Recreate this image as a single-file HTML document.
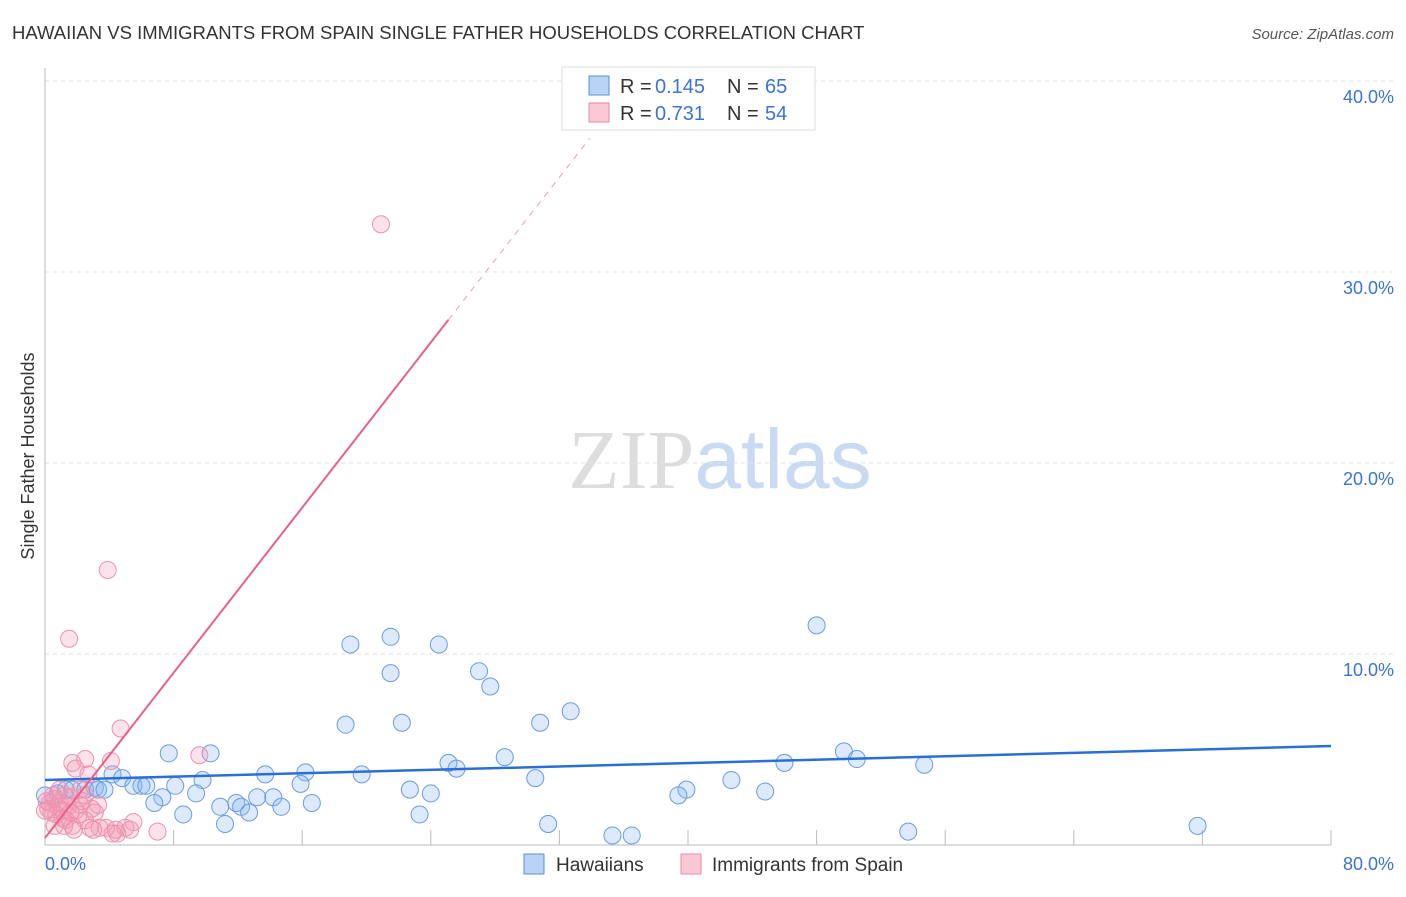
<!DOCTYPE html>
<html><head><meta charset="utf-8"><style>
body{margin:0;background:#fff;font-family:"Liberation Sans",sans-serif;}
svg text{font-family:"Liberation Sans",sans-serif;}
</style></head><body>
<svg id="chart" width="1406" height="892" xmlns="http://www.w3.org/2000/svg">
<text x="12" y="39" font-size="18.5" fill="#333">HAWAIIAN VS IMMIGRANTS FROM SPAIN SINGLE FATHER HOUSEHOLDS CORRELATION CHART</text>
<text x="1394" y="39" font-size="15" fill="#555" text-anchor="end" font-style="italic">Source: ZipAtlas.com</text>
<text x="720" y="488" font-size="84" text-anchor="middle"><tspan fill="#ddd" font-family="Liberation Serif">ZIP</tspan><tspan fill="#c9dbf2">atlas</tspan></text>
<g id="grid"></g>
<line x1="45" y1="68" x2="45" y2="845" stroke="#bbb"/>
<line x1="45" y1="845" x2="1331" y2="845" stroke="#bbb"/>
<g id="ticks"></g>
<text transform="translate(34,456) rotate(-90)" font-size="18" fill="#333" text-anchor="middle">Single Father Households</text>
<text x="45" y="870" font-size="18" fill="#3b73d6">0.0%</text>
<text x="1394" y="870" font-size="18" fill="#3b73d6" text-anchor="end">80.0%</text>
<g id="points"></g>
<g id="lines"></g>
<g>
<rect x="562" y="67" width="253" height="63" fill="#fff" stroke="#ddd"/>
<rect x="589" y="76" width="20" height="19" fill="#b9d3f5" stroke="#5b8fd9"/>
<rect x="589" y="103" width="20" height="19" fill="#fbc8d6" stroke="#e88aa6"/>
<text x="620" y="93" font-size="20" fill="#333">R =</text><text x="655" y="93" font-size="20" fill="#3b73d6">0.145</text>
<text x="727" y="93" font-size="20" fill="#333">N =</text><text x="765" y="93" font-size="20" fill="#3b73d6">65</text>
<text x="620" y="120" font-size="20" fill="#333">R =</text><text x="655" y="120" font-size="20" fill="#3b73d6">0.731</text>
<text x="727" y="120" font-size="20" fill="#333">N =</text><text x="765" y="120" font-size="20" fill="#3b73d6">54</text>
</g>
<g><rect x="524" y="854" width="20" height="20" fill="#b9d3f5" stroke="#5b8fd9"/><text x="556" y="871" font-size="19" fill="#333">Hawaiians</text></g>
<g><rect x="681" y="854" width="20" height="20" fill="#fbc8d6" stroke="#e88aa6"/><text x="712" y="871" font-size="19" fill="#333">Immigrants from Spain</text></g>
</svg>
<script>
const yTicks=[10,20,30,40];
const yTickLabels=["10.0%","20.0%","30.0%","40.0%"];
const xTicks=[0,8,16,24,32,40,48,56,64,72,80];
const blueX=[19.0,21.5,24.5,48.0,21.5,27.0,27.7,18.7,22.2,30.8,32.7,7.7,10.3,25.1,25.6,28.6,49.7,50.5,54.7,46.0,4.2,4.8,5.5,6.0,6.3,8.1,9.8,13.7,16.2,19.7,15.9,30.5,42.7,39.9,22.7,24.0,39.4,44.8,9.4,7.3,6.8,10.9,11.9,12.2,12.7,13.2,14.2,14.7,16.6,8.6,11.2,23.3,31.3,35.3,36.5,53.7,71.7,0.8,1.3,1.7,2.5,3.1,3.3,3.7,0.0];
const blueY=[10.5,10.9,10.5,11.5,9.0,9.1,8.3,6.3,6.4,6.4,7.0,4.8,4.8,4.3,4.0,4.6,4.9,4.5,4.2,4.3,3.7,3.5,3.1,3.1,3.1,3.1,3.4,3.7,3.8,3.7,3.2,3.5,3.4,2.9,2.9,2.7,2.6,2.8,2.7,2.5,2.2,2.0,2.2,2.0,1.7,2.5,2.5,2.0,2.2,1.6,1.1,1.6,1.1,0.5,0.5,0.7,1.0,2.7,2.9,2.9,2.9,3.0,2.9,2.9,2.6];
const pinkX=[20.9,3.9,1.5,4.7,9.6,1.7,2.5,1.9,4.1,2.7,0.9,1.2,1.6,0.6,0.3,0.8,1.1,1.4,2.2,1.9,2.9,3.1,2.3,0.2,0.4,0.7,1.3,1.7,2.1,2.5,2.8,1.2,1.8,3.4,3.8,4.4,4.5,5.0,5.5,5.3,7.0,3.0,4.2,0.1,0.5,0.9,1.6,0.0,0.6,1.1,2.2,3.3,2.5];
const pinkY=[32.5,14.4,10.8,6.1,4.7,4.3,4.5,4.0,4.4,3.7,2.9,2.6,2.5,2.4,2.2,2.0,1.8,2.0,2.1,1.8,1.9,1.7,2.3,1.9,1.7,1.6,1.3,1.0,1.6,1.3,0.9,1.0,0.8,0.9,0.9,0.8,0.6,0.9,1.2,0.8,0.7,0.8,0.6,2.3,2.6,2.2,1.7,1.8,1.0,1.4,2.9,2.1,2.6];
const blueTrend=[3.4,5.18];
const pinkTrend=[0.37,27.5,25.1];
const NS="http://www.w3.org/2000/svg";
const X=v=>45+v*16.075, Y=v=>845-v*19.1;
function mk(tag,attrs,parent){const e=document.createElementNS(NS,tag);for(const k in attrs)e.setAttribute(k,attrs[k]);document.getElementById(parent).appendChild(e);return e;}
yTicks.forEach((t,i)=>{
 const l=mk('line',{x1:45,x2:1394,y1:Y(t),y2:Y(t),stroke:'#e2e2e2','stroke-dasharray':'4,4'},'grid');
 
 
 const tx=mk('text',{x:1394,y:Y(t)+22,'font-size':18,fill:'#3b73d6','text-anchor':'end'},'grid');
 tx.textContent=yTickLabels[i];
 
 
});
xTicks.forEach(t=>{
 const l=mk('line',{x1:X(t),x2:X(t),y1:830,y2:845,stroke:'#bbb'},'ticks');
 
 
});
blueX.forEach((x,i)=>{
 const c=mk('circle',{cx:X(x),cy:Y(blueY[i]),r:8.5,fill:'rgba(130,180,240,0.28)',stroke:'#6b9be0','stroke-width':1},'points');
 
 
});
pinkX.forEach((x,i)=>{
 const c=mk('circle',{cx:X(x),cy:Y(pinkY[i]),r:8.5,fill:'rgba(245,150,180,0.28)',stroke:'#eb93ae','stroke-width':1},'points');
 
 
});
const bl=mk('line',{x1:X(0),y1:Y(blueTrend[0]),x2:X(80),y2:Y(blueTrend[1]),stroke:'#2a6fd6','stroke-width':2.5},'lines');


const slope=(pinkTrend[1]-pinkTrend[0])/pinkTrend[2];
const pl=mk('line',{x1:X(0),y1:Y(pinkTrend[0]),x2:X(pinkTrend[2]),y2:Y(pinkTrend[1]),stroke:'#e8608a','stroke-width':2},'lines');


const xe=(37-pinkTrend[0])/slope;
const pd=mk('line',{x1:X(pinkTrend[2]),y1:Y(pinkTrend[1]),x2:X(xe),y2:Y(37),stroke:'#e8a0b6','stroke-width':1,'stroke-dasharray':'6,6'},'lines');


</script>
</body></html>
